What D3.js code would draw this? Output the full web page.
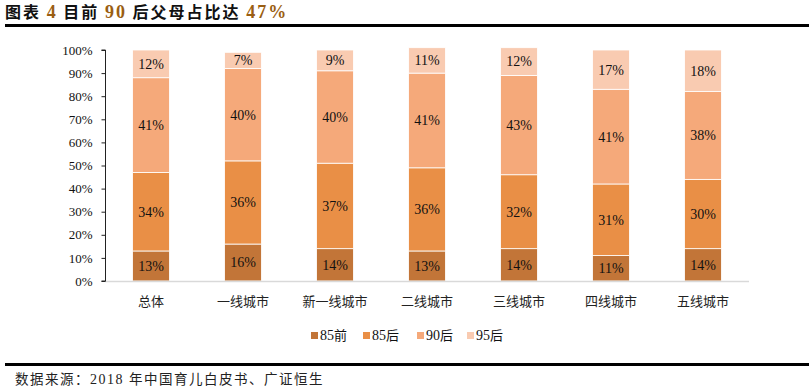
<!DOCTYPE html>
<html><head><meta charset="utf-8">
<script src="https://cdn.jsdelivr.net/npm/d3@7"></script>
<style>
html,body{margin:0;padding:0;background:#fff;}
svg{display:block;}
</style></head>
<body>
<svg id="c" width="812" height="391"></svg>
<script>
const categories = ["总体","一线城市","新一线城市","二线城市","三线城市","四线城市","五线城市"];
const seriesNames = ["85前","85后","90后","95后"];
const s85before = [13,16,14,13,14,11,14];
const s85after  = [34,36,37,36,32,31,30];
const s90after  = [41,40,40,41,43,41,38];
const s95after  = [12,7,9,11,12,17,18];
const yTicks = [0,10,20,30,40,50,60,70,80,90,100];
const colors = ["#C27538","#E98F46","#F5A97A","#F9CBB1"];

const seriesValues = [s85before,s85after,s90after,s95after];
const rows = categories.map((c,i)=>{
  const r={cat:c};
  seriesNames.forEach((s,j)=>r[s]=seriesValues[j][i]);
  return r;
});
const stack = d3.stack().keys(seriesNames)(rows);

const svg = d3.select("#c");
const serif = "'Liberation Serif','Times New Roman',serif";
const cjk = "'Noto Sans CJK SC',sans-serif";

// title
const title = svg.append("text").attr("x",5).attr("y",18)
  .attr("font-size",16).attr("font-weight","bold").attr("fill","#111").attr("letter-spacing",2);
[["图表 ",cjk,"#111"],["4",serif,"#9A5E12"],[" 目前 ",cjk,"#111"],["90",serif,"#9A5E12"],[" 后父母占比达 ",cjk,"#111"],["47%",serif,"#9A5E12"]]
  .forEach(([t,f,c])=>title.append("tspan").text(t).attr("font-family",f).attr("fill",c)
    .attr("font-size", f===serif?18:16));
svg.append("line").attr("x1",5).attr("x2",809).attr("y1",25.5).attr("y2",25.5)
  .attr("stroke","#000").attr("stroke-width",3);

const x = d3.scaleBand().domain(categories).range([105,749]).paddingInner(0.6).paddingOuter(0.3);
const y = d3.scaleLinear().domain([0,100]).range([281,50]);

// bars
const g = svg.append("g");
stack.forEach((layer,k)=>{
  g.selectAll(null).data(layer).enter().append("rect")
    .attr("x",d=>x(d.data.cat))
    .attr("width",x.bandwidth())
    .attr("y",d=>y(d[1]))
    .attr("height",d=>y(d[0])-y(d[1]))
    .attr("fill",colors[k])
    .attr("stroke","#fff").attr("stroke-width",0.8);
  g.selectAll(null).data(layer).enter().append("text")
    .attr("x",d=>x(d.data.cat)+x.bandwidth()/2)
    .attr("y",d=>(y(d[0])+y(d[1]))/2)
    .attr("dy","0.35em").attr("text-anchor","middle")
    .attr("font-family",serif).attr("font-size",14).attr("fill","#111")
    .text(d=>(d[1]-d[0])+"%");
});

// x baseline
svg.append("line").attr("x1",105).attr("x2",749).attr("y1",281.5).attr("y2",281.5)
  .attr("stroke","#d9d9d9").attr("stroke-width",1.5);

// y axis
const yAxis = d3.axisLeft(y).tickValues(yTicks).tickSize(4).tickFormat(d=>d+"%");
const ya = svg.append("g").attr("transform","translate(105.5,0)").call(yAxis);
ya.select(".domain").attr("stroke","#222").attr("d","M-4,"+y(100)+"H0V"+y(0)+"H-4");
ya.selectAll(".tick line").attr("stroke","#222");
ya.selectAll(".tick text").attr("font-family",serif).attr("font-size",13).attr("fill","#111").attr("x",-13);

// category labels
svg.append("g").selectAll("text").data(categories).enter().append("text")
  .attr("x",d=>x(d)+x.bandwidth()/2).attr("y",301).attr("dy","0.35em")
  .attr("text-anchor","middle").attr("font-family",cjk).attr("font-size",13).attr("fill","#222")
  .text(d=>d);

// legend
const legX = [311,363,417,467];
const lg = svg.append("g");
seriesNames.forEach((s,i)=>{
  lg.append("rect").attr("x",legX[i]).attr("y",332).attr("width",7).attr("height",7).attr("fill",colors[i]);
  const t = lg.append("text").attr("x",legX[i]+9).attr("y",335.5).attr("dy","0.35em")
    .attr("font-size",14).attr("fill","#111");
  t.append("tspan").attr("font-family",serif).text(s.slice(0,2));
  t.append("tspan").attr("font-family",cjk).attr("font-size",13).text(s.slice(2));
});

// footer
svg.append("line").attr("x1",5).attr("x2",809).attr("y1",364.5).attr("y2",364.5)
  .attr("stroke","#000").attr("stroke-width",3);
const ft = svg.append("text").attr("x",15).attr("y",379).attr("dy","0.35em").attr("font-size",13.5)
  .attr("fill","#222").attr("letter-spacing",1.5);
ft.append("tspan").attr("font-family",cjk).text("数据来源：");
ft.append("tspan").attr("font-family",serif).attr("font-size",14).text("2018 ");
ft.append("tspan").attr("font-family",cjk).text("年中国育儿白皮书、广证恒生");
</script>
</body></html>
